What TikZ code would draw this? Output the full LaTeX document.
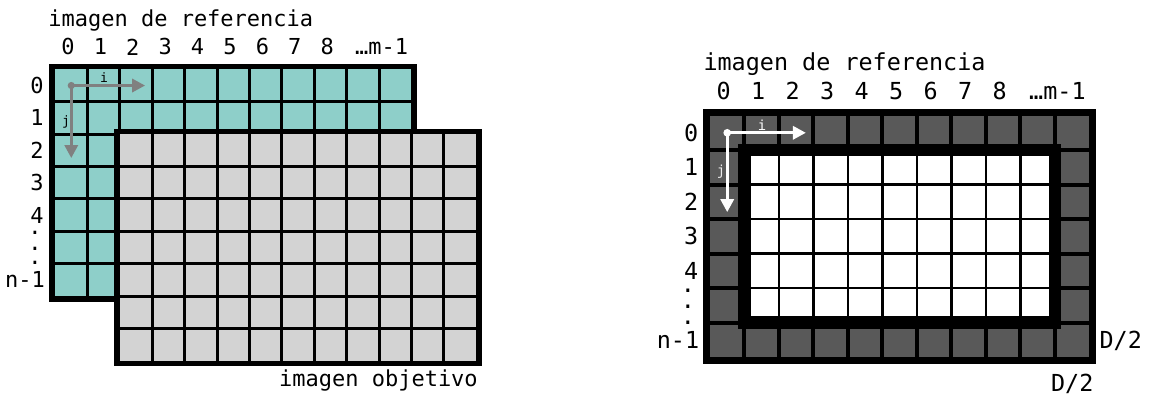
\documentclass[tikz,border=0pt]{standalone}
\usepackage{fontspec}
\usepackage{tikz}
\usetikzlibrary{arrows.meta}
\newfontfamily\monofont{DejaVu Sans Mono}
\definecolor{cian}{RGB}{142,207,201}
\definecolor{grisclaro}{RGB}{211,211,211}
\definecolor{grisoscuro}{RGB}{89,89,89}
\definecolor{gris}{RGB}{128,128,128}

\begin{document}
\begin{tikzpicture}[x=16.2pt, y=16.2pt,
    lbl/.style={font=\monofont\fontsize{11}{13}\selectfont, inner sep=0pt},
    idx/.style={font=\monofont\fontsize{6.5}{7}\selectfont, inner sep=0pt},
    rejilla/.style={line width=1.5pt},
    marco/.style={line width=2.8pt},
    flecha/.style={line width=1.6pt, -{Triangle[length=6.5pt,width=6.5pt]}}]
            % 画布
            \useasboundingbox (-1.70,-3.18) rectangle (33.83,9.14);

            % 左: 参考图像
            \fill[cian] (0,0) rectangle (11,7);
            \foreach \x in {1,...,10} \draw[rejilla] (\x,0) -- (\x,7);
            \foreach \y in {1,...,6} \draw[rejilla] (0,\y) -- (11,\y);
            \draw[marco] (-0.086,-0.086) rectangle (11.086,7.086);

            % 左: i, j 箭头
            \coordinate (oA) at (0.5,6.5);
            \coordinate (iA) at (2.78,6.5);
            \coordinate (jA) at (0.5,4.26);
            \draw[flecha, gris] (oA) -- (iA);
            \draw[flecha, gris] (oA) -- (jA);
            \fill[gris] (oA) circle (1.8pt);
            \node[idx] (letraIA) at (1.51,6.74) {i};
            \node[idx] (letraJA) at (0.34,5.37) {j};

            % 左: 目标图像
            \fill[grisclaro] (2,-2) rectangle (13,5);
            \foreach \x in {3,...,12} \draw[rejilla] (\x,-2) -- (\x,5);
            \foreach \y in {-1,...,4} \draw[rejilla] (2,\y) -- (13,\y);
            \draw[marco] (1.914,-2.086) rectangle (13.086,5.086);

            % 左: 标注
            \node[lbl, anchor=base west] (tituloA) at (-0.22,8.31) {imagen de referencia};
            \foreach \k in {0,...,8}
                \node[lbl] (colA\k) at (\k+0.4,7.69) {\k};
            \node[lbl] (colAm) at (10.08,7.69) {…m-1};
            \foreach \r in {0,...,4}
                \node[lbl, anchor=east] (filA\r) at (-0.34,6.5-\r) {\r};
            \foreach \d/\yy in {1/1.98, 2/1.48, 3/1.03}
                \node[lbl, anchor=base] (puntoA\d) at (-0.62,\yy-0.07) {.};
            \node[lbl, anchor=east] (filAn) at (-0.3,0.5) {n-1};
            \node[lbl, anchor=base east] (objetivo) at (13.06,-2.78) {imagen objetivo};

            % 右: 参考图像 (带边界)
            \begin{scope}[shift={(20.216,-1.883)}, scale=1.065, transform shape]
                \fill[grisoscuro] (0,0) rectangle (11,7);
                \foreach \x in {1,...,10} \draw[line width=2pt] (\x,0) -- (\x,7);
                \foreach \y in {1,...,6} \draw[line width=2pt] (0,\y) -- (11,\y);
                \fill[white] (1,1) rectangle (10,6);
                \foreach \x in {2,...,9} \draw[line width=1.4pt] (\x,1) -- (\x,6);
                \foreach \y in {2,...,5} \draw[line width=1.4pt] (1,\y) -- (10,\y);
                \draw[line width=6.3pt] (1,1) rectangle (10,6);
                \draw[line width=3.4pt] (-0.097,-0.097) rectangle (11.097,7.097);

                % 右: i, j 箭头
                \coordinate (oB) at (0.5,6.5);
                \coordinate (iB) at (2.78,6.5);
                \coordinate (jB) at (0.5,4.2);
                \draw[flecha, white] (oB) -- (iB);
                \draw[flecha, white] (oB) -- (jB);
                \fill[white] (oB) circle (1.8pt);
                \node[idx, white] (letraIB) at (1.51,6.72) {i};
                \node[idx, white!85!gray] (letraJB) at (0.32,5.36) {j};

                % 右: 标注
                \node[lbl, anchor=base west] (tituloB) at (-0.2,8.32) {imagen de referencia};
                \foreach \k in {0,...,8}
                    \node[lbl] (colB\k) at (\k+0.4,7.72) {\k};
                \node[lbl] (colBm) at (10.07,7.72) {…m-1};
                \foreach \r in {0,...,4}
                    \node[lbl, anchor=east] (filB\r) at (-0.33,6.5-\r) {\r};
                \foreach \d/\yy in {1/1.94, 2/1.48, 3/1.01}
                    \node[lbl, anchor=base] (puntoB\d) at (-0.64,\yy-0.07) {.};
                \node[lbl, anchor=east] (filBn) at (-0.3,0.5) {n-1};
                \node[lbl, anchor=base west] (mitadX) at (11.28,0.25) {D/2};
                \node[lbl, anchor=base] (mitadY) at (10.5,-1.0) {D/2};
            \end{scope}
        \end{tikzpicture}
\end{document}
